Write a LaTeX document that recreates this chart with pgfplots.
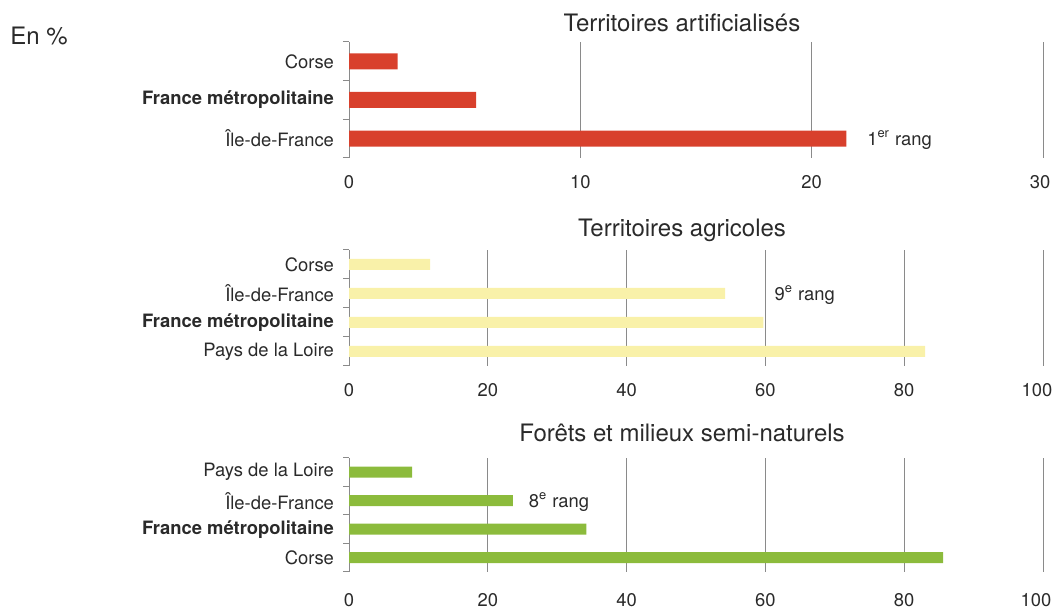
\documentclass[border=0pt]{standalone}
\usepackage{pgfplots}
\pgfplotsset{compat=1.18}
\usepackage{fontspec}
\setmainfont{TeX Gyre Heros}
\definecolor{rouge}{HTML}{D8402C}
\definecolor{jaune}{HTML}{F9F1A9}
\definecolor{vert}{HTML}{8CBB3C}
\definecolor{grille}{HTML}{8A8A8A}
\definecolor{texte}{HTML}{2A2A2A}
\newcommand{\lab}{\fontsize{9.2}{11}\selectfont}
\newcommand{\tit}{\fontsize{12}{14}\selectfont}
\newcommand{\gauche}[2]{\hbox to 0pt{\hss#2\hss\hskip#1}}
\tikzset{rang/.style={anchor=base west, font=\lab, text=texte, yshift=-3.3pt}}
\pgfplotsset{
  panel/.style={
    scale only axis, width=347pt,
    xbar, xmin=0, ymin=-0.5,
    axis lines*=left,
    axis line style={-},
    x axis line style={draw=none},
    y axis line style={grille, line width=0.5pt},
    xmajorgrids=true,
    grid style={grille, line width=0.5pt},
    major tick length=0pt,
    minor tick length=3pt,
    tick align=outside,
    major y tick style={draw=none},
    major x tick style={draw=none},
    minor y tick style={grille, line width=0.5pt},
    /pgf/number format/assume math mode=true,
    yticklabel style={font=\lab, text=texte, xshift=-4pt},
    xticklabel style={font=\lab, text=texte, yshift=-5pt},
    every axis plot/.append style={draw=none},
    clip=false,
  },
}
\begin{document}
\begin{tikzpicture}
\useasboundingbox (0,0) rectangle (528pt,304pt);
% Panel 1
\begin{axis}[panel, at={(174.5pt,225pt)}, anchor=south west, height=58pt,
  xmax=30, xtick={0,10,20,30}, xticklabels={0,10,20,\gauche{3pt}{30}}, ymax=2.5,
  ytick={0,1,2}, yticklabels={Île-de-France, \textbf{France métropolitaine}, Corse},
  minor ytick={-0.5,0.5,1.5,2.5}, bar width=8pt]
\addplot[fill=rouge] coordinates {(21.5,0) (5.5,1) (2.1,2)};
\node[rang] at (axis cs:22.1,0) {1\textsuperscript{er} rang};
\end{axis}
% Panel 2
\begin{axis}[panel, at={(174.5pt,121pt)}, anchor=south west, height=58pt,
  xmax=100, xtick={0,20,...,100}, xticklabels={0,20,40,60,80,\gauche{6pt}{100}}, ymax=3.5,
  ytick={0,1,2,3}, yticklabels={Pays de la Loire, \textbf{France métropolitaine}, Île-de-France, Corse},
  minor ytick={-0.5,0.5,1.5,2.5,3.5}, bar width=5.5pt]
\addplot[fill=jaune] coordinates {(83.0,0) (59.7,1) (54.2,2) (11.7,3)};
\node[rang] at (axis cs:60.3,2) {9\textsuperscript{e} rang};
\end{axis}
% Panel 3
\begin{axis}[panel, at={(174.5pt,18pt)}, anchor=south west, height=57pt,
  xmax=100, xtick={0,20,...,100}, xticklabels={0,20,40,60,80,\gauche{7pt}{100}}, ymax=3.5,
  xticklabel style={yshift=-2pt},
  ytick={0,1,2,3}, yticklabels={Corse, \textbf{France métropolitaine}, Île-de-France, Pays de la Loire},
  minor ytick={-0.5,0.5,1.5,2.5,3.5}, bar width=5.5pt]
\addplot[fill=vert] coordinates {(85.6,0) (34.2,1) (23.6,2) (9.1,3)};
\node[rang] at (axis cs:24.9,2) {8\textsuperscript{e} rang};
\end{axis}
\node[anchor=base, font=\tit, text=texte] at (341pt,288pt) {Territoires artificialisés};
\node[anchor=base, font=\tit, text=texte] at (341pt,185.5pt) {Territoires agricoles};
\node[anchor=base, font=\tit, text=texte] at (341pt,83pt) {Forêts et milieux semi-naturels};
\node[anchor=base west, font=\tit, text=texte, inner sep=0pt] at (5pt,281.5pt) {En \%};
\end{tikzpicture}
\end{document}
